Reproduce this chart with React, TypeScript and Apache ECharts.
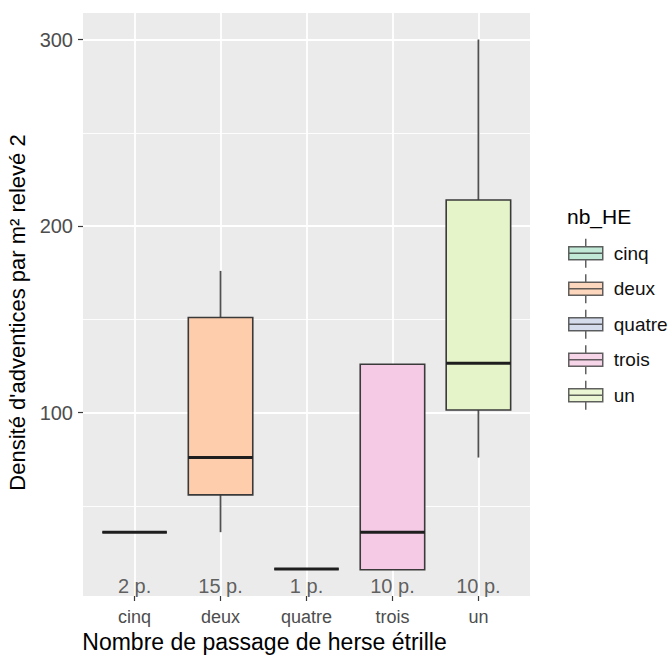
import React, { useEffect, useRef } from "react";
import * as echarts from "echarts";

const CATEGORIES = ["cinq", "deux", "quatre", "trois", "un"];
const LOW = [36, 36, 16.3, 15.9, 76];
const Q1 = [36, 56, 16.3, 15.9, 101.5];
const MEDIAN = [36, 76, 16.3, 36, 126.5];
const Q3 = [36, 151, 16.3, 126, 214];
const HIGH = [36, 176, 16.3, 126, 300];
const COUNT_LABELS = ["2 p.", "15 p.", "1 p.", "10 p.", "10 p."];
const COUNT_LABEL_Y = 7;
const Y_MAJOR = [100, 200, 300];
const Y_MINOR = [50, 150, 250];
const FILLS = ["#B3E2CD", "#FDCDAC", "#CBD5E8", "#F4CAE4", "#E6F5C9"];

const FONT = "'Liberation Sans', Arial, sans-serif";
const STROKE = "#3a3a3a";
const BOX_WIDTH = 0.75;
const ICON = "path://M0,8L34,8L34,21L0,21Z M0,14.5L34,14.5 M17,0L17,8 M17,21L17,29";

export default function App() {
  const ref = useRef<HTMLDivElement>(null);
  useEffect(() => {
    if (!ref.current) return;
    const chart = echarts.init(ref.current, undefined, { renderer: "svg" });
    const boxData = CATEGORIES.map((_, i) => [i, LOW[i], Q1[i], MEDIAN[i], Q3[i], HIGH[i]]);
    const option: any = {
      animation: false,
      textStyle: { fontFamily: FONT },
      title: {
        text: "nb_HE",
        left: 567,
        top: 206,
        padding: 0,
        textStyle: { fontFamily: FONT, fontSize: 21, fontWeight: "normal", color: "#000" },
      },
      legend: {
        orient: "vertical",
        left: 568,
        top: 238,
        padding: 0,
        itemWidth: 34,
        itemHeight: 29,
        itemGap: 5,
        textStyle: { fontFamily: FONT, fontSize: 19, color: "#111", padding: [0, 0, 0, 6] },
        data: CATEGORIES.map((c, i) => ({
          name: c,
          icon: ICON,
          itemStyle: { color: FILLS[i], borderColor: STROKE, borderWidth: 1.5 },
        })),
        selectedMode: false,
      },
      grid: {
        left: 83,
        right: 142,
        top: 13,
        bottom: 59,
        outerBoundsMode: "none",
        containLabel: false,
        show: true,
        backgroundColor: "#EBEBEB",
        borderWidth: 0,
      },
      xAxis: {
        type: "value",
        min: -0.6,
        max: CATEGORIES.length - 0.4,
        name: "Nombre de passage de herse étrille",
        nameLocation: "middle",
        nameGap: 33,
        nameTextStyle: { fontFamily: FONT, fontSize: 23, color: "#000", padding: [0, 84, 0, 0] },
        axisLine: { show: false, onZero: false },
        axisTick: {
          show: true,
          length: 5,
          customValues: CATEGORIES.map((_, i) => i),
          lineStyle: { color: STROKE, width: 1.2 },
        },
        axisLabel: {
          customValues: CATEGORIES.map((_, i) => i),
          formatter: (v: number) => CATEGORIES[Math.round(v)] ?? "",
          fontFamily: FONT,
          fontSize: 18,
          color: "#4D4D4D",
          margin: 12,
        },
        splitLine: { show: true, lineStyle: { color: "#FFFFFF", width: 1.8 } },
      },
      yAxis: [
        {
          type: "value",
          min: 1.8,
          max: 314.2,
          name: "Densité d'adventices par m² relevé 2",
          nameLocation: "middle",
          nameGap: 50,
          nameRotate: 90,
          nameTextStyle: { fontFamily: FONT, fontSize: 22, color: "#000", padding: [0, 16, 0, 0] },
          axisLine: { show: false, onZero: false },
          axisTick: {
            show: true,
            length: 5,
            customValues: Y_MAJOR,
            lineStyle: { color: STROKE, width: 1.2 },
          },
          axisLabel: {
            customValues: Y_MAJOR,
            fontFamily: FONT,
            fontSize: 20,
            color: "#4D4D4D",
            margin: 10,
          },
          splitLine: { show: true, lineStyle: { color: "#FFFFFF", width: 1.8 } },
        },
        {
          type: "value",
          min: 1.8,
          max: 314.2,
          position: "left",
          axisLine: { show: false, onZero: false },
          axisTick: { show: false, customValues: Y_MINOR },
          axisLabel: { show: false, customValues: Y_MINOR },
          splitLine: { show: true, lineStyle: { color: "#FFFFFF", width: 0.9 } },
        },
      ],
      series: [
        {
          type: "custom",
          name: "boxes",
          z: 10,
          xAxisIndex: 0,
          yAxisIndex: 0,
          encode: { x: 0, y: [1, 2, 3, 4, 5] },
          data: boxData,
          renderItem: (params: any, api: any) => {
            const x = api.value(0);
            const w = api.size([BOX_WIDTH, 0])[0];
            const pLo = api.coord([x, api.value(1)]);
            const pQ1 = api.coord([x, api.value(2)]);
            const pMd = api.coord([x, api.value(3)]);
            const pQ3 = api.coord([x, api.value(4)]);
            const pHi = api.coord([x, api.value(5)]);
            const cx = pMd[0];
            const whisker = { stroke: "#505050", lineWidth: 1.8 };
            return {
              type: "group",
              children: [
                { type: "line", shape: { x1: cx, y1: pHi[1], x2: cx, y2: pQ3[1] }, style: whisker },
                { type: "line", shape: { x1: cx, y1: pQ1[1], x2: cx, y2: pLo[1] }, style: whisker },
                {
                  type: "rect",
                  shape: { x: cx - w / 2, y: pQ3[1], width: w, height: pQ1[1] - pQ3[1] },
                  style: { fill: FILLS[params.dataIndex], stroke: STROKE, lineWidth: 1.6 },
                },
                {
                  type: "line",
                  shape: { x1: cx - w / 2, y1: pMd[1], x2: cx + w / 2, y2: pMd[1] },
                  style: { stroke: "#1e1e1e", lineWidth: 3 },
                },
              ],
            };
          },
        },
        {
          type: "scatter",
          name: "counts",
          z: 11,
          symbolSize: 1,
          itemStyle: { color: "rgba(0,0,0,0)" },
          data: CATEGORIES.map((_, i) => [i, COUNT_LABEL_Y]),
          label: {
            show: true,
            position: "inside",
            formatter: (p: any) => COUNT_LABELS[p.dataIndex],
            fontFamily: FONT,
            fontSize: 20,
            color: "#3a3a3a",
          },
          silent: true,
        },
        ...CATEGORIES.map((c, i) => ({
          type: "scatter",
          name: c,
          data: [],
          itemStyle: { color: FILLS[i], borderColor: STROKE, borderWidth: 1.5 },
        })),
      ],
    };
    chart.setOption(option);
    return () => chart.dispose();
  }, []);
  return (
    <div
      ref={ref}
      style={{ position: "fixed", left: 0, top: 0, width: 672, height: 655, background: "#fff" }}
    />
  );
}
